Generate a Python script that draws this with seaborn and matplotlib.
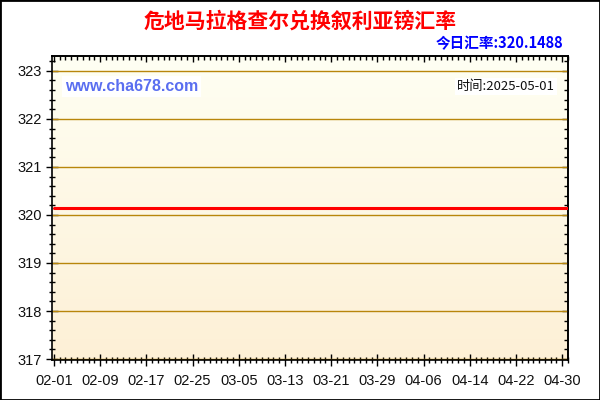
import numpy as np
import pandas as pd
import matplotlib
matplotlib.use("Agg")
import matplotlib.pyplot as plt
import matplotlib.dates as mdates
from matplotlib.ticker import MultipleLocator, NullFormatter
from matplotlib.colors import LinearSegmentedColormap
import seaborn as sns

title = "危地马拉格查尔兑换叙利亚镑汇率"
rate_label = "今日汇率:320.1488"
date_label = "时间:2025-05-01"
watermark = "www.cha678.com"
dates = ["2025-02-01", "2025-05-01"]
values = [320.1488, 320.1488]
y_ticks = [317, 318, 319, 320, 321, 322, 323]

sns.set_style("white")
plt.rcParams['font.family'] = ['Liberation Sans', 'Noto Sans CJK SC', 'DejaVu Sans']

df = pd.DataFrame({"date": pd.to_datetime(dates), "rate": values})

fig = plt.figure(figsize=(6, 4), dpi=100)
fig.patch.set_facecolor("white")
ax = fig.add_axes([52/600, 1 - 360/400, 516/600, 304/400])

# gradient background
cmap = LinearSegmentedColormap.from_list("bg", ["#FDF0D6", "#FFFFF3"])
grad = np.linspace(0, 1, 256).reshape(-1, 1)
ax.imshow(grad, extent=[0, 1, 0, 1], transform=ax.transAxes, cmap=cmap,
          aspect="auto", origin="lower", zorder=0)

sns.lineplot(data=df, x="date", y="rate", ax=ax, color="#FF0000", lw=2.2, zorder=5)

x0 = pd.Timestamp("2025-02-01") - pd.Timedelta(hours=8)
x1 = pd.Timestamp("2025-05-01")
ax.set_xlim(x0, x1)
ax.set_ylim(316.98, 323.31)
ax.set_xlabel("")
ax.set_ylabel("")

ax.set_yticks(y_ticks)
ax.yaxis.set_minor_locator(MultipleLocator(0.2))
xt = pd.date_range("2025-02-01", "2025-04-30", freq="8D")
ax.set_xticks(xt)
ax.xaxis.set_major_formatter(mdates.DateFormatter("%m-%d"))
ax.xaxis.set_minor_locator(mdates.DayLocator())

for y in y_ticks:
    ax.axhline(y, color="#B8860B", lw=1, zorder=1)

ax.tick_params(axis="both", which="major", direction="inout", length=8, width=1,
               color="black", labelsize=10.5, labelcolor="#111111",
               bottom=True, left=True, top=False, right=False)
ax.tick_params(axis="both", which="minor", direction="inout", length=4, width=1,
               color="black", bottom=True, left=True, top=False, right=False)
ax.tick_params(axis="x", which="major", pad=6)
ax.tick_params(axis="y", which="major", pad=3)

# top and right: inward ticks only
sec_x = ax.secondary_xaxis("top")
sec_x.set_xticks(xt)
sec_x.xaxis.set_minor_locator(mdates.DayLocator())
sec_x.xaxis.set_major_formatter(NullFormatter())
sec_x.tick_params(which="major", direction="in", length=4, width=1, color="black")
sec_x.tick_params(which="minor", direction="in", length=3, width=1, color="black")
sec_y = ax.secondary_yaxis("right")
sec_y.set_yticks(y_ticks)
sec_y.yaxis.set_minor_locator(MultipleLocator(0.2))
sec_y.yaxis.set_major_formatter(NullFormatter())
sec_y.tick_params(which="major", direction="in", length=4, width=1, color="black")
sec_y.tick_params(which="minor", direction="in", length=3, width=1, color="black")
for a in (sec_x, sec_y):
    for s in a.spines.values():
        s.set_color("black")
        s.set_linewidth(1.2)

for s in ax.spines.values():
    s.set_color("black")
    s.set_linewidth(1.2)
    s.set_visible(True)

fig.text(0.5, 1 - 21/400, title, ha="center", va="center", color="#FF0000",
         fontsize=15, fontweight="bold", family=["Noto Sans CJK SC", "DejaVu Sans"])
fig.text(563/600, 1 - 43/400, rate_label, ha="right", va="center", color="#0000FF",
         fontsize=10.5, fontweight="bold", family=["Noto Sans CJK SC", "DejaVu Sans"])
ax.text(0.975, 0.9, date_label, transform=ax.transAxes, ha="right", va="center",
        fontsize=9.5, color="#111111", family=["Noto Sans CJK SC", "DejaVu Sans"],
        bbox=dict(facecolor="white", edgecolor="none", pad=1.5), zorder=6)
ax.text(0.025, 0.9, watermark, transform=ax.transAxes, ha="left", va="center",
        fontsize=11.5, fontweight="bold", color="#5A6EF0",
        bbox=dict(facecolor="white", edgecolor="none", pad=2), zorder=6)

# outer frame
fig.add_artist(plt.Rectangle((0, 0), 1, 1, transform=fig.transFigure, fill=False,
                             edgecolor="black", lw=2))

fig.savefig("out.png", dpi=100)
